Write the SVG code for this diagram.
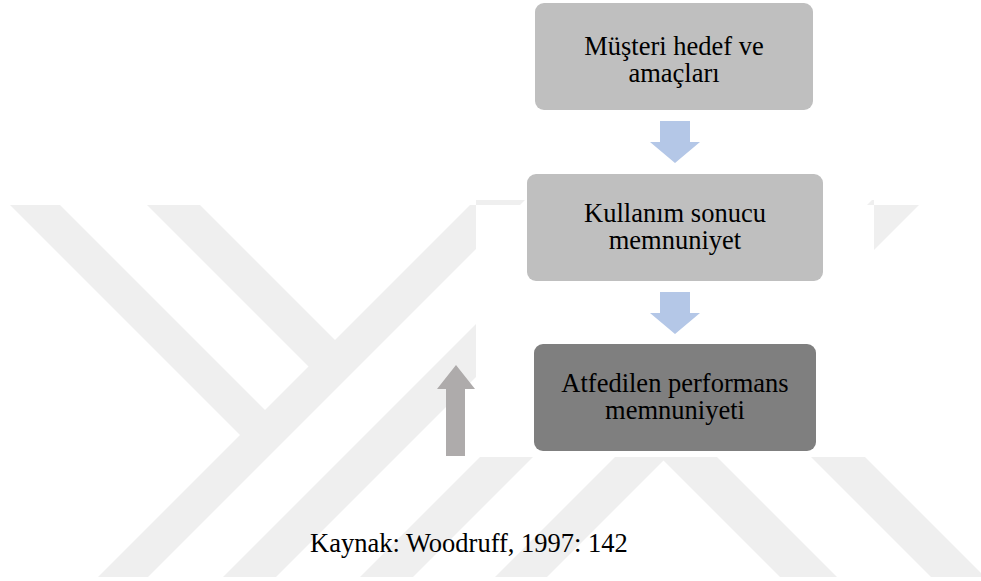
<svg xmlns="http://www.w3.org/2000/svg" width="981" height="581" viewBox="0 0 981 581">
  <defs>
    <style>
      .stripe { fill: #efefef; }
      .box-light { fill: #bfbfbf; }
      .box-dark { fill: #7f7f7f; }
      .arrow-down { fill: #b4c7e7; }
      .arrow-up { fill: #aeabab; }
      .label { font-family: 'Liberation Serif', 'DejaVu Serif', serif; font-size: 26.5px; fill: #000000; text-anchor: middle; }
      .caption { font-family: 'Liberation Serif', 'DejaVu Serif', serif; font-size: 26.5px; fill: #000000; }
    </style>
    <!-- background band, with the figure's white panel cut out of it -->
    <clipPath id="band">
      <path clip-rule="evenodd" d="M0 205 H981 V577 H0 Z M476 200 H874 V457 H476 Z"/>
    </clipPath>
  </defs>

  <rect x="0" y="0" width="981" height="581" fill="#ffffff"/>

  <!-- light diagonal background stripes -->
  <g id="background-stripes" clip-path="url(#band)">
    <polygon class="stripe" points="-15,180 35,180 277.5,422.5 252.5,447.5"/>
    <polygon class="stripe" points="122,180 175,180 347.5,352.5 321,379"/>
    <polygon class="stripe" points="75,600 125,600 545,180 495,180"/>
    <polygon class="stripe" points="200,600 253,600 673,180 620,180"/>
    <polygon class="stripe" points="337,600 390,600 810,180 757,180"/>
    <polygon class="stripe" points="472,600 524,600 944,180 892,180"/>
    <polygon class="stripe" points="649,446 677.5,417.5 860,600 803,600"/>
    <polygon class="stripe" points="534,180 588,180 1008,600 954,600"/>
  </g>

  <!-- connectors -->
  <g id="connectors">
    <polygon class="arrow-down" points="660,121 690,121 690,142 700,142 675,163 650,142 660,142"/>
    <polygon class="arrow-down" points="660,292 690,292 690,313 700,313 675,334 650,313 660,313"/>
    <polygon class="arrow-up" points="446,456 465,456 465,389 475,389 456,365 437,389 446,389"/>
  </g>

  <g id="node-goals">
    <rect class="box-light" x="535" y="3" width="278" height="107" rx="9"/>
    <text class="label"><tspan x="674" y="55">Müşteri hedef ve</tspan><tspan x="674" y="82">amaçları</tspan></text>
  </g>

  <g id="node-use-outcome">
    <rect class="box-light" x="527" y="174" width="296" height="107" rx="9"/>
    <text class="label"><tspan x="675" y="222">Kullanım sonucu</tspan><tspan x="675" y="249">memnuniyet</tspan></text>
  </g>

  <g id="node-attribute-performance">
    <rect class="box-dark" x="534" y="344" width="282" height="107" rx="9"/>
    <text class="label"><tspan x="675" y="392">Atfedilen performans</tspan><tspan x="675" y="418.5">memnuniyeti</tspan></text>
  </g>

  <text class="caption" x="310" y="552">Kaynak: Woodruff, 1997: 142</text>
</svg>
